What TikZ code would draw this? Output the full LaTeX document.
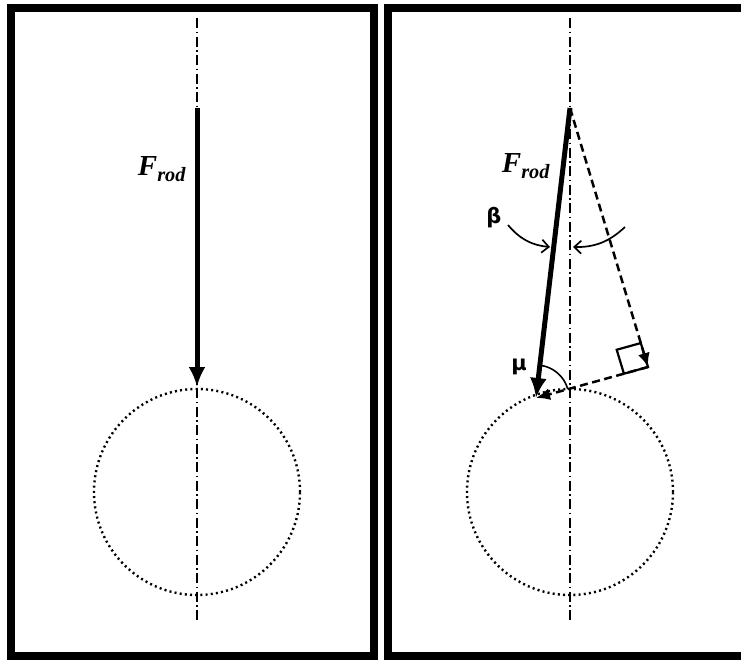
\documentclass[tikz,border=0pt]{standalone}
\usepackage{fontspec}
\setmainfont{Liberation Serif}
\newfontfamily\symfont{DejaVu Sans}
\usetikzlibrary{arrows.meta,calc,angles}
\tikzset{
  frame/.style={line width=7.5pt},
  axisline/.style={line width=1.1pt,dash pattern=on 10pt off 3.5pt on 1.5pt off 3.5pt},
  wheel/.style={line width=2.4pt,dash pattern=on 2pt off 3.2pt},
  rod/.style={line width=5pt,-{Latex[length=20pt,width=17pt]}},
  comp/.style={line width=2.5pt,dash pattern=on 8pt off 4.5pt,-{Latex[length=14pt,width=12pt]}},
  betaarrow/.style={line width=1.7pt,-{Straight Barb[length=7pt,width=13pt]}},
  lab/.style={font=\fontsize{29}{29}\selectfont\bfseries\itshape,inner sep=0pt},
  glab/.style={font=\symfont\fontsize{21}{21}\selectfont\bfseries,inner sep=0pt}
}
\begin{document}
\begin{tikzpicture}[x=1pt,y=-1pt]
\useasboundingbox (0,0) rectangle (741,662);
\clip (0,0) rectangle (741,662);
% frames
\draw[frame] (11,8) rectangle (374,656);
\draw[frame] (388,8) rectangle (760,656);
% left panel
\coordinate (LT) at (197,18);
\coordinate (LB) at (197,620);
\draw[axisline] (LT) -- (LB);
\coordinate (LC) at (197,492);
\draw[wheel] (LC) circle[radius=103pt];
\coordinate (LA) at (197,108);
\coordinate (LP) at (197,387);
\draw[rod] (LA) -- (LP);
\node[lab] (lf) at (162,169) {F\textsubscript{rod}};
% right panel
\coordinate (RT) at (570,18);
\coordinate (RB) at (570,620);
\draw[axisline] (RT) -- (RB);
\coordinate (RC) at (570,492);
\draw[wheel] (RC) circle[radius=103pt];
\coordinate (A) at (570,108);
\coordinate (P) at (536,398);
\coordinate (Q) at (648,367);
\draw[comp] (A) -- (Q);
\draw[comp] (Q) -- (P);
\draw[rod] (A) -- (P);
% right angle mark
\coordinate (Q1) at ($(Q)!25pt!(A)$);
\coordinate (Q2) at ($(Q)!25pt!(P)$);
\draw[line width=2.2pt] (Q) -- (Q1) -- ($(Q1)+(Q2)-(Q)$) -- (Q2) -- cycle;
% mu angle
\pic[draw,line width=1.6pt,angle radius=33pt] {angle = Q--P--A};
\node[glab] (mu) at (519,367) {μ};
% beta
\coordinate (b1s) at (508,225);
\coordinate (b1e) at (550,247);
\coordinate (b2s) at (625,227);
\coordinate (b2e) at (573,247);
\draw[betaarrow] (b1s) to[bend right=22] (b1e);
\draw[betaarrow] (b2s) to[bend left=22] (b2e);
\node[glab] (beta) at (494,218) {β};
\node[lab] (rf) at (526,166) {F\textsubscript{rod}};
\end{tikzpicture}
\end{document}
